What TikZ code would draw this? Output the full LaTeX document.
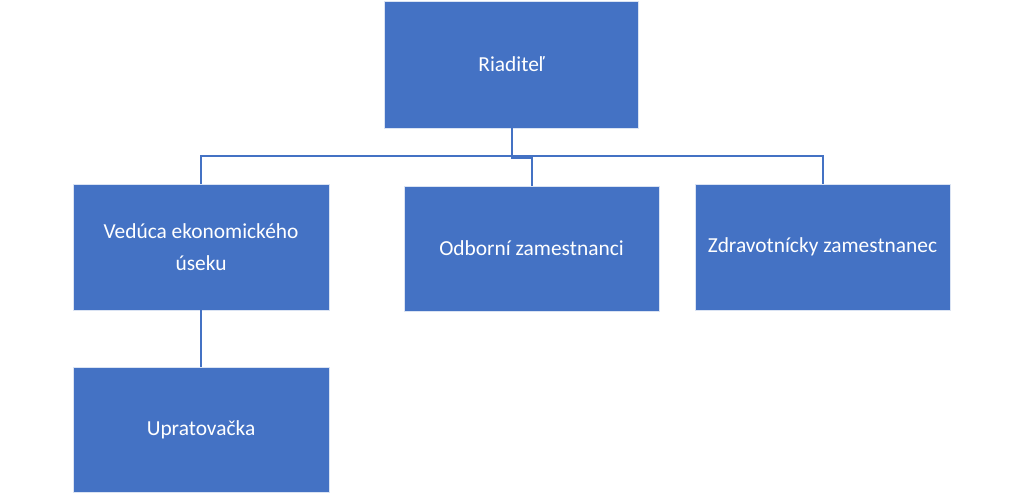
\documentclass[tikz,border=0pt]{standalone}
\usepackage{fontspec}
\setmainfont{Carlito}
\definecolor{boxblue}{HTML}{4472C4}
\definecolor{lineblue}{HTML}{4472C4}
\begin{document}
\begin{tikzpicture}[x=1pt,y=-1pt,
  orgbox/.style={rectangle, fill=boxblue, draw=white!80!boxblue, line width=0.6pt,
    text=white, align=center, inner sep=0pt,
    font=\fontsize{21.4}{32}\selectfont},
  conn/.style={draw=lineblue, line width=2pt}]
\useasboundingbox (0,0) rectangle (1024,495);
\node[orgbox, minimum width=254pt, minimum height=127pt] (R) at (511.5,64.5) {Riaditeľ};
\node[orgbox, minimum width=256pt, minimum height=126pt] (V) at (201,247) {Vedúca ekonomického\\úseku};
\node[orgbox, minimum width=255pt, minimum height=125pt] (O) at (531.5,248.5) {Odborní zamestnanci};
\node[orgbox, minimum width=255pt, minimum height=126pt] (Z) at (822.5,247) {Zdravotnícky zamestnanec};
\node[orgbox, minimum width=256pt, minimum height=125pt] (U) at (201,429.5) {Upratovačka};
\draw[conn] (R.south) -- ++(0,30) -| (O.north);
\draw[conn] (V.north) -- ++(0,-28) -| (Z.north);
\draw[conn] (V.south) -- (U.north);
\end{tikzpicture}
\end{document}
